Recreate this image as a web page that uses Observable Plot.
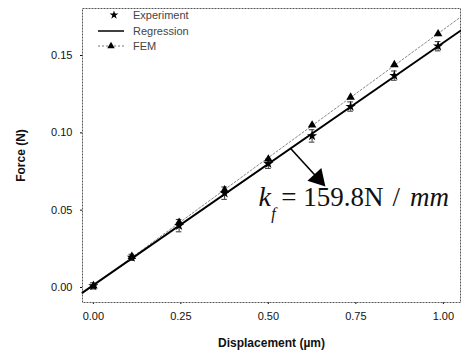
<!DOCTYPE html>
<html>
<head>
<meta charset="utf-8">
<script src="https://cdn.jsdelivr.net/npm/d3@7"></script>
<script src="https://cdn.jsdelivr.net/npm/@observablehq/plot@0.6"></script>
<style>
  html, body { margin: 0; padding: 0; background: #fff; }
  #wrap { position: relative; width: 461px; height: 361px; }
  #wrap svg.plot text { fill: #111; }
  g[aria-label="x-axis label"] text, g[aria-label="y-axis label"] text { font-weight: bold; font-size: 12px; }
  #legend { position: absolute; left: 0; top: 0; pointer-events: none; }
</style>
</head>
<body>
<div id="wrap"></div>
<script>
// ---- data ----
const displacement = [0, 0.11, 0.245, 0.375, 0.5, 0.625, 0.735, 0.86, 0.985];
const experimentForce = [0.001, 0.0195, 0.040, 0.061, 0.080, 0.098, 0.117, 0.137, 0.156];
const experimentError = [0.002, 0.002, 0.004, 0.004, 0.003, 0.004, 0.003, 0.003, 0.003];
const femForce = [0.001, 0.020, 0.042, 0.063, 0.083, 0.105, 0.123, 0.144, 0.164];
const xTicks = [0, 0.25, 0.5, 0.75, 1.0];
const yTicks = [0, 0.05, 0.10, 0.15];
const xDomain = [-0.031, 1.049];
const yDomain = [-0.0097, 0.1804];
const seriesNames = ["Experiment", "Regression", "FEM"];
// annotation: arrow from the regression line to the stiffness label
const arrowFrom = [0.563, 0.090];
const arrowTo = [0.642, 0.0705];
const stiffnessLabel = {k: "k", sub: "f", value: "= 159.8N", slash: "/", unit: "mm"};
const labelPos = {k: [0.472, 0.053], sub: [0.508, 0.0445], value: [0.537, 0.053], slash: [0.855, 0.053], unit: [0.905, 0.053]};

// ---- layout ----
const W = 461, H = 361, mL = 82, mR = 1, mT = 8, mB = 59;

// ---- derived tables ----
const expData = displacement.map((x, i) => ({x, y: experimentForce[i], e: experimentError[i]}));
const femData = displacement.map((x, i) => ({x, y: femForce[i]}));
function fit(data) {
  const mx = d3.mean(data, d => d.x), my = d3.mean(data, d => d.y);
  const sxy = d3.sum(data, d => (d.x - mx) * (d.y - my));
  const sxx = d3.sum(data, d => (d.x - mx) ** 2);
  const b = sxy / sxx, a = my - b * mx;
  return xDomain.map(x => ({x, y: a + b * x}));
}
const regLine = fit(expData);
const femLine = fit(femData);
const capW = 0.008;
// arrow-head direction in screen space
const pxX = (W - mL - mR) / (xDomain[1] - xDomain[0]);
const pxY = (H - mT - mB) / (yDomain[1] - yDomain[0]);
const headAngle = Math.atan2((arrowFrom[1] - arrowTo[1]) * pxY, (arrowTo[0] - arrowFrom[0]) * pxX) * 180 / Math.PI + 90;

const serif = "'Liberation Serif', 'DejaVu Serif', serif";
const txt = (key, size, italic) => Plot.text([stiffnessLabel[key]], {
  x: () => labelPos[key][0], y: () => labelPos[key][1], text: d => d, textAnchor: "start", lineAnchor: "bottom",
  fontFamily: serif, fontStyle: italic ? "italic" : "normal", fontSize: size, fill: "#000"});

const chart = Plot.plot({
  width: W, height: H,
  marginLeft: mL, marginRight: mR, marginTop: mT, marginBottom: mB,
  style: {fontFamily: "'Liberation Sans', Arial, sans-serif", fontSize: "11px", background: "white", color: "#111"},
  x: {domain: xDomain, ticks: xTicks, tickFormat: d3.format(".2f"), tickSize: 2, tickPadding: 8,
      label: "Displacement (\u00b5m)", labelAnchor: "center", labelOffset: 44, labelArrow: "none"},
  y: {domain: yDomain, ticks: yTicks, tickFormat: d3.format(".2f"), tickSize: 2, tickPadding: 8,
      label: "Force (N)", labelAnchor: "center", labelOffset: 66, labelArrow: "none"},
  marks: [
    Plot.frame({stroke: "#555", strokeDasharray: "2,1"}),
    Plot.line(femLine, {x: "x", y: "y", stroke: "#888", strokeWidth: 1, strokeDasharray: "2,2"}),
    Plot.line(regLine, {x: "x", y: "y", stroke: "#000", strokeWidth: 2}),
    Plot.ruleX(expData, {x: "x", y1: d => d.y - d.e, y2: d => d.y + d.e, stroke: "#333", strokeWidth: 1}),
    Plot.ruleY(expData, {y: d => d.y - d.e, x1: d => d.x - capW, x2: d => d.x + capW, stroke: "#333", strokeWidth: 1}),
    Plot.ruleY(expData, {y: d => d.y + d.e, x1: d => d.x - capW, x2: d => d.x + capW, stroke: "#333", strokeWidth: 1}),
    Plot.dot(femData, {x: "x", y: "y", symbol: "triangle", fill: "#000", r: 3.2}),
    Plot.dot(expData, {x: "x", y: "y", symbol: "star", fill: "#000", r: 3.2}),
    Plot.link([{a: arrowFrom, b: arrowTo}], {x1: d => d.a[0], y1: d => d.a[1], x2: d => d.b[0], y2: d => d.b[1],
      stroke: "#000", strokeWidth: 1.6}),
    Plot.dot([arrowTo], {x: d => d[0], y: d => d[1], symbol: "triangle", r: 7, fill: "#000", rotate: headAngle}),
    txt("k", 28, true),
    txt("sub", 16, true),
    txt("value", 27, false),
    txt("slash", 27, false),
    txt("unit", 27, true)
  ]
});
chart.classList.add("plot");
const wrap = document.getElementById("wrap");
wrap.appendChild(chart);

// ---- legend (inside the frame, top-left) ----
const leg = d3.select(wrap).append("svg").attr("id", "legend").attr("width", W).attr("height", H);
const rows = [
  {name: seriesNames[0], y: 15, kind: "exp"},
  {name: seriesNames[1], y: 31, kind: "reg"},
  {name: seriesNames[2], y: 46, kind: "fem"}
];
rows.forEach(r => {
  if (r.kind === "reg") leg.append("line").attr("x1", 98).attr("x2", 124).attr("y1", r.y).attr("y2", r.y).attr("stroke", "#000").attr("stroke-width", 1.5);
  if (r.kind === "fem") leg.append("line").attr("x1", 98).attr("x2", 124).attr("y1", r.y).attr("y2", r.y).attr("stroke", "#777").attr("stroke-dasharray", "2,2");
  if (r.kind === "exp") leg.append("path").attr("transform", `translate(114,${r.y})`).attr("d", d3.symbol(d3.symbolStar, 24)()).attr("fill", "#000");
  if (r.kind === "fem") leg.append("path").attr("transform", `translate(111,${r.y})`).attr("d", d3.symbol(d3.symbolTriangle, 24)()).attr("fill", "#000");
  leg.append("text").attr("x", 133).attr("y", r.y + 4).attr("font-family", "'Liberation Sans', Arial, sans-serif")
    .attr("font-size", 11).attr("fill", "#444").text(r.name);
});
</script>
</body>
</html>
